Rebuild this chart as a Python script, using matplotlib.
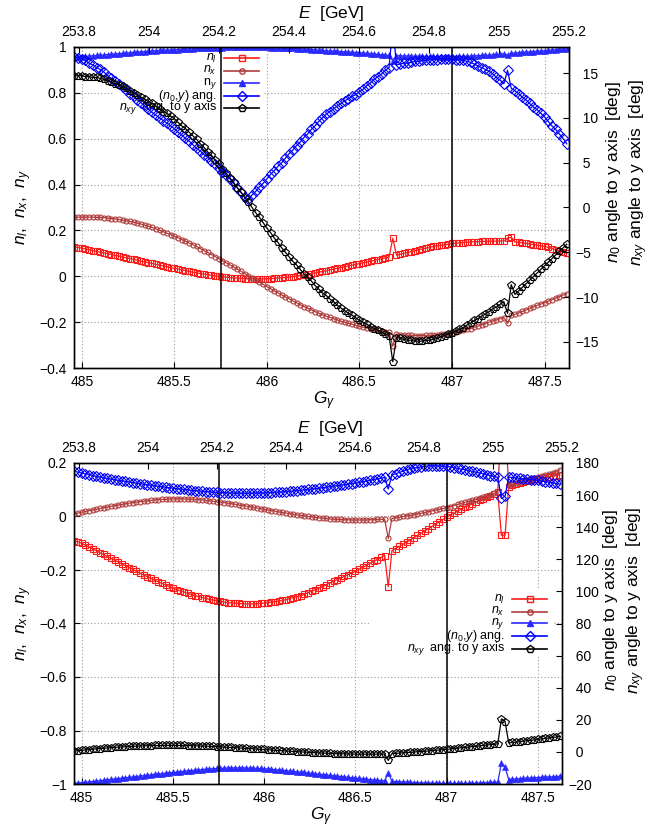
import numpy as np
import matplotlib
matplotlib.use("Agg")
import matplotlib.pyplot as plt
from matplotlib.lines import Line2D
from matplotlib.patches import Rectangle
from matplotlib.ticker import FixedLocator, FuncFormatter

plt.rcParams.update({
    "font.family": ["Liberation Sans", "DejaVu Sans"],
    "mathtext.fontset": "custom",
    "mathtext.rm": "Liberation Sans",
    "mathtext.it": "Liberation Sans:italic",
    "mathtext.bf": "Liberation Sans:bold",
    "mathtext.sf": "Liberation Sans",
    "axes.unicode_minus": True,
})

# ---------------------------------------------------------------- data
# spin tune scan: G*gamma sampled every 0.02 starting at 484.96
gamma_start, gamma_step, n_points = 484.96, 0.02, 134
gamma = gamma_start + gamma_step * np.arange(n_points)

# marked working points (vertical lines)
marked_gamma = [485.75, 487.0]

# upper panel
nl_top = [
    0.127, 0.125, 0.123,
    0.119, 0.116, 0.112, 0.109, 0.105, 0.102, 0.098, 0.095, 0.091, 0.088,
    0.084, 0.081, 0.077, 0.074, 0.070, 0.066, 0.063, 0.059, 0.056, 0.052,
    0.049, 0.045, 0.042, 0.038, 0.035, 0.032, 0.028, 0.025, 0.021, 0.018,
    0.015, 0.012, 0.010, 0.007, 0.004, 0.002, 0.000, -0.002, -0.004, -0.006,
    -0.007, -0.008, -0.009, -0.010, -0.011, -0.011, -0.012, -0.012, -0.011, -0.011,
    -0.010, -0.009, -0.008, -0.006, -0.005, -0.003, -0.001, 0.001, 0.004, 0.006,
    0.009, 0.012, 0.015, 0.018, 0.021, 0.024, 0.028, 0.031, 0.035, 0.038,
    0.041, 0.045, 0.048, 0.052, 0.055, 0.059, 0.062, 0.066, 0.069, 0.073,
    0.077, 0.080, 0.084, 0.166, 0.092,
    0.096, 0.100, 0.104, 0.108, 0.112, 0.116, 0.119, 0.123, 0.126, 0.130,
    0.133, 0.135, 0.138, 0.140, 0.143, 0.144, 0.146, 0.147, 0.149, 0.150,
    0.151, 0.151, 0.152, 0.152, 0.153, 0.153, 0.153, 0.154, 0.154,
    0.166, 0.170,
    0.150, 0.148, 0.146, 0.144, 0.141, 0.138, 0.136, 0.133, 0.130,
    0.126, 0.121, 0.116, 0.111, 0.106, 0.100,
]
nx_top = [
    0.257, 0.258, 0.258,
    0.258, 0.258, 0.258, 0.257, 0.257, 0.256, 0.254, 0.252, 0.250, 0.248,
    0.245, 0.242, 0.239, 0.236, 0.232, 0.228, 0.223, 0.218, 0.213, 0.207,
    0.201, 0.195, 0.188, 0.182, 0.175, 0.168, 0.160, 0.153, 0.145, 0.138,
    0.130, 0.121, 0.112, 0.104, 0.095, 0.086, 0.077, 0.068, 0.059, 0.050,
    0.041, 0.031, 0.022, 0.012, 0.003, -0.007, -0.016, -0.026, -0.035, -0.045,
    -0.054, -0.063, -0.072, -0.081, -0.090, -0.098, -0.107, -0.115, -0.124, -0.132,
    -0.139, -0.146, -0.154, -0.161, -0.168, -0.174, -0.179, -0.185, -0.190, -0.196,
    -0.200, -0.205, -0.209, -0.214, -0.218, -0.222, -0.225, -0.229, -0.232, -0.236,
    -0.239, -0.242, -0.245, -0.305, -0.252,
    -0.254, -0.255, -0.257, -0.258, -0.259, -0.259, -0.259, -0.258, -0.258, -0.257,
    -0.255, -0.253, -0.252, -0.250, -0.248, -0.244, -0.240, -0.236, -0.232, -0.228,
    -0.222, -0.217, -0.211, -0.206, -0.200, -0.195, -0.190, -0.185, -0.180,
    -0.205, -0.170,
    -0.166, -0.160, -0.153, -0.147, -0.140, -0.134, -0.127, -0.121, -0.115,
    -0.108, -0.102, -0.095, -0.089, -0.082, -0.076,
]
ny_top = [
    0.957, 0.957, 0.958,
    0.959, 0.960, 0.962, 0.963, 0.964, 0.965, 0.967, 0.968, 0.970, 0.971,
    0.972, 0.974, 0.975, 0.977, 0.978, 0.979, 0.980, 0.982, 0.983, 0.984,
    0.985, 0.986, 0.986, 0.987, 0.988, 0.989, 0.990, 0.991, 0.992, 0.993,
    0.994, 0.994, 0.995, 0.995, 0.996, 0.996, 0.997, 0.997, 0.998, 0.998,
    0.999, 0.999, 0.999, 1.000, 1.000, 1.000, 0.999, 0.999, 0.998, 0.998,
    0.997, 0.997, 0.996, 0.996, 0.995, 0.994, 0.994, 0.993, 0.992, 0.991,
    0.990, 0.989, 0.988, 0.986, 0.985, 0.984, 0.983, 0.982, 0.981, 0.980,
    0.979, 0.978, 0.977, 0.976, 0.975, 0.974, 0.972, 0.971, 0.969, 0.968,
    0.966, 0.965, 0.963, 0.940, 0.962,
    0.962, 0.961, 0.961, 0.960, 0.960, 0.960, 0.960, 0.959, 0.959, 0.959,
    0.959, 0.958, 0.958, 0.958, 0.958, 0.958, 0.959, 0.959, 0.960, 0.960,
    0.961, 0.962, 0.963, 0.964, 0.965, 0.966, 0.968, 0.969, 0.971,
    0.964, 0.972,
    0.974, 0.975, 0.977, 0.978, 0.979, 0.980, 0.982, 0.983, 0.984,
    0.985, 0.987, 0.988, 0.990, 0.991, 0.992,
]
ang_n0_top = [
    16.8, 16.7, 16.6,
    16.4, 16.1, 15.9, 15.6, 15.4, 15.1, 14.7, 14.4, 14.1, 13.8,
    13.4, 13.1, 12.7, 12.4, 12.0, 11.7, 11.3, 11.0, 10.6, 10.3,
    10.0, 9.7, 9.4, 9.1, 8.8, 8.4, 8.1, 7.7, 7.4, 7.0,
    6.6, 6.3, 5.9, 5.6, 5.2, 4.8, 4.4, 4.0, 3.6, 3.2,
    2.7, 2.2, 1.7, 1.2, 0.9, 1.4, 1.8, 2.3, 2.7, 3.2,
    3.7, 4.1, 4.6, 5.0, 5.5, 6.0, 6.4, 6.9, 7.3, 7.8,
    8.2, 8.7, 9.1, 9.6, 10.0, 10.4, 10.7, 11.0, 11.3, 11.6,
    11.9, 12.1, 12.4, 12.6, 12.9, 13.2, 13.6, 13.9, 14.3, 14.6,
    14.9, 15.3, 15.6, 20.3, 15.9,
    16.0, 16.1, 16.1, 16.2, 16.3, 16.3, 16.4, 16.4, 16.5, 16.5,
    16.5, 16.6, 16.6, 16.6, 16.6, 16.5, 16.5, 16.4, 16.3, 16.2,
    16.0, 15.8, 15.6, 15.4, 15.2, 14.9, 14.5, 14.2, 13.8,
    15.3, 13.3,
    13.0, 12.7, 12.3, 12.0, 11.6, 11.2, 10.9, 10.5, 10.1,
    9.6, 9.1, 8.7, 8.2, 7.7, 7.1,
]
ang_nxy_top = [
    14.7, 14.7, 14.7,
    14.6, 14.6, 14.5, 14.5, 14.4, 14.3, 14.1, 14.0, 13.8, 13.7,
    13.5, 13.3, 13.0, 12.8, 12.6, 12.3, 12.1, 11.8, 11.6, 11.3,
    11.0, 10.7, 10.5, 10.2, 9.9, 9.5, 9.1, 8.8, 8.4, 8.0,
    7.6, 7.1, 6.7, 6.2, 5.8, 5.3, 4.8, 4.3, 3.8, 3.3,
    2.8, 2.2, 1.7, 1.1, 0.6, 0.0, -0.6, -1.1, -1.7, -2.3,
    -2.8, -3.4, -3.9, -4.5, -5.0, -5.5, -6.0, -6.4, -6.9, -7.4,
    -7.8, -8.2, -8.7, -9.1, -9.5, -9.8, -10.2, -10.5, -10.9, -11.2,
    -11.5, -11.8, -12.0, -12.3, -12.6, -12.8, -13.0, -13.3, -13.5, -13.7,
    -13.9, -14.1, -14.3, -17.2, -14.5,
    -14.6, -14.7, -14.8, -14.8, -14.9, -14.9, -14.9, -14.8, -14.8, -14.7,
    -14.6, -14.4, -14.3, -14.1, -14.0, -13.8, -13.6, -13.4, -13.1, -12.9,
    -12.6, -12.4, -12.1, -11.9, -11.6, -11.3, -11.1, -10.8, -10.5,
    -11.8, -8.6,
    -9.7, -9.3, -8.9, -8.5, -8.1, -7.7, -7.3, -6.9, -6.5,
    -6.1, -5.7, -5.3, -4.9, -4.5, -4.1,
]

# lower panel
nl_bot = [
    -0.090, -0.095, -0.100,
    -0.107, -0.114, -0.121, -0.128, -0.135, -0.142, -0.149, -0.156, -0.163, -0.170,
    -0.177, -0.184, -0.191, -0.198, -0.205, -0.212, -0.218, -0.225, -0.231, -0.238,
    -0.244, -0.250, -0.256, -0.262, -0.268, -0.273, -0.278, -0.282, -0.287, -0.292,
    -0.296, -0.299, -0.303, -0.306, -0.310, -0.312, -0.315, -0.317, -0.320, -0.322,
    -0.323, -0.324, -0.325, -0.326, -0.327, -0.327, -0.327, -0.326, -0.325, -0.324,
    -0.322, -0.320, -0.318, -0.316, -0.314, -0.311, -0.307, -0.303, -0.300, -0.296,
    -0.291, -0.285, -0.279, -0.274, -0.268, -0.262, -0.255, -0.249, -0.242, -0.236,
    -0.230, -0.224, -0.217, -0.211, -0.205, -0.198, -0.190, -0.183, -0.175, -0.168,
    -0.161, -0.153, -0.146, -0.262, -0.128,
    -0.120, -0.112, -0.104, -0.096, -0.088, -0.079, -0.071, -0.062, -0.054, -0.045,
    -0.037, -0.028, -0.020, -0.011, -0.003, 0.005, 0.012, 0.020, 0.027, 0.035,
    0.041, 0.047, 0.054, 0.060, 0.066, 0.072, 0.078, 0.084, 0.090,
    -0.070, -0.070,
    0.112, 0.116, 0.121, 0.125, 0.128, 0.132, 0.135, 0.139, 0.142,
    0.144, 0.147, 0.149, 0.151, 0.153, 0.155,
]
nx_bot = [
    0.010, 0.013, 0.016,
    0.019, 0.022, 0.024, 0.027, 0.030, 0.033, 0.035, 0.038, 0.040, 0.043,
    0.045, 0.047, 0.050, 0.052, 0.054, 0.056, 0.057, 0.059, 0.060, 0.062,
    0.063, 0.064, 0.064, 0.065, 0.066, 0.066, 0.066, 0.066, 0.065, 0.065,
    0.064, 0.063, 0.062, 0.060, 0.059, 0.057, 0.055, 0.054, 0.052, 0.050,
    0.048, 0.046, 0.043, 0.041, 0.039, 0.037, 0.034, 0.032, 0.029, 0.027,
    0.025, 0.022, 0.020, 0.017, 0.015, 0.013, 0.011, 0.008, 0.006, 0.004,
    0.002, 0.000, -0.001, -0.003, -0.005, -0.006, -0.007, -0.009, -0.010, -0.011,
    -0.011, -0.012, -0.012, -0.013, -0.013, -0.013, -0.013, -0.013, -0.012, -0.012,
    -0.011, -0.011, -0.010, -0.082, -0.007,
    -0.005, -0.003, 0.000, 0.002, 0.004, 0.007, 0.010, 0.012, 0.015, 0.018,
    0.021, 0.024, 0.027, 0.030, 0.033, 0.037, 0.041, 0.045, 0.049, 0.053,
    0.057, 0.061, 0.065, 0.069, 0.073, 0.077, 0.082, 0.086, 0.090,
    0.378, 0.348,
    0.116, 0.120, 0.124, 0.128, 0.132, 0.136, 0.140, 0.144, 0.148,
    0.152, 0.156, 0.160, 0.164, 0.168, 0.174,
]
ny_bot = [
    -0.997, -0.996, -0.995,
    -0.994, -0.992, -0.991, -0.989, -0.988, -0.986, -0.985, -0.983, -0.982, -0.980,
    -0.978, -0.977, -0.975, -0.974, -0.972, -0.970, -0.969, -0.967, -0.966, -0.964,
    -0.963, -0.961, -0.960, -0.958, -0.957, -0.956, -0.954, -0.953, -0.951, -0.950,
    -0.949, -0.948, -0.946, -0.945, -0.944, -0.943, -0.942, -0.942, -0.941, -0.940,
    -0.940, -0.940, -0.940, -0.940, -0.940, -0.941, -0.941, -0.942, -0.942, -0.943,
    -0.944, -0.945, -0.946, -0.948, -0.949, -0.950, -0.952, -0.953, -0.955, -0.956,
    -0.957, -0.959, -0.960, -0.962, -0.963, -0.965, -0.966, -0.968, -0.969, -0.971,
    -0.972, -0.974, -0.975, -0.977, -0.978, -0.979, -0.981, -0.982, -0.984, -0.985,
    -0.986, -0.987, -0.988, -0.958, -0.990,
    -0.991, -0.992, -0.992, -0.993, -0.994, -0.995, -0.995, -0.996, -0.996, -0.997,
    -0.997, -0.997, -0.998, -0.998, -0.998, -0.998, -0.998, -0.998, -0.998, -0.998,
    -0.998, -0.997, -0.997, -0.996, -0.996, -0.995, -0.994, -0.994, -0.993,
    -0.923, -0.935,
    -0.984, -0.983, -0.981, -0.980, -0.979, -0.978, -0.978, -0.977, -0.976,
    -0.975, -0.974, -0.974, -0.973, -0.972, -0.971,
]
ang_n0_bot = [
    174.8, 174.3, 173.8,
    173.3, 172.8, 172.2, 171.7, 171.2, 170.8, 170.4, 170.0, 169.6, 169.2,
    168.9, 168.5, 168.2, 167.8, 167.5, 167.2, 166.8, 166.5, 166.1, 165.8,
    165.5, 165.2, 164.9, 164.6, 164.3, 164.0, 163.8, 163.5, 163.3, 163.0,
    162.8, 162.6, 162.4, 162.2, 162.0, 161.9, 161.8, 161.6, 161.5, 161.4,
    161.4, 161.3, 161.3, 161.2, 161.2, 161.2, 161.3, 161.3, 161.4, 161.4,
    161.5, 161.6, 161.8, 161.9, 162.0, 162.2, 162.4, 162.6, 162.8, 163.0,
    163.3, 163.5, 163.8, 164.0, 164.3, 164.6, 164.9, 165.3, 165.6, 165.9,
    166.2, 166.5, 166.9, 167.2, 167.5, 167.9, 168.3, 168.8, 169.2, 169.6,
    170.1, 170.5, 171.0, 163.8, 172.5,
    173.3, 174.1, 174.9, 175.7, 176.5, 176.9, 177.2, 177.6, 177.9, 178.3,
    178.3, 178.2, 178.2, 178.1, 178.0, 177.6, 177.1, 176.7, 176.2, 175.8,
    175.3, 174.8, 174.3, 173.8, 173.3, 172.7, 172.2, 171.6, 171.0,
    158.0, 159.4,
    171.2, 171.0, 170.7, 170.5, 170.2, 170.0, 169.7, 169.5, 169.2,
    168.8, 168.4, 168.1, 167.7, 167.3, 166.8,
]
ang_nxy_bot = [
    0.5, 0.8, 1.0,
    1.2, 1.4, 1.7, 1.9, 2.1, 2.3, 2.5, 2.6, 2.8, 3.0,
    3.1, 3.2, 3.4, 3.5, 3.6, 3.7, 3.8, 3.8, 3.9, 4.0,
    4.0, 4.0, 4.1, 4.1, 4.1, 4.1, 4.0, 4.0, 3.9, 3.9,
    3.8, 3.7, 3.7, 3.6, 3.5, 3.4, 3.3, 3.1, 3.0, 2.9,
    2.8, 2.6, 2.5, 2.3, 2.2, 2.1, 1.9, 1.8, 1.6, 1.5,
    1.3, 1.2, 1.0, 0.9, 0.7, 0.6, 0.4, 0.3, 0.1, 0.0,
    -0.1, -0.2, -0.4, -0.5, -0.6, -0.7, -0.8, -0.9, -1.0, -1.1,
    -1.2, -1.2, -1.3, -1.3, -1.4, -1.4, -1.4, -1.4, -1.4, -1.4,
    -1.4, -1.3, -1.3, -5.3, -1.0,
    -0.9, -0.7, -0.6, -0.4, -0.3, -0.1, 0.1, 0.2, 0.4, 0.6,
    0.8, 1.0, 1.2, 1.4, 1.6, 1.8, 2.1, 2.3, 2.6, 2.8,
    3.0, 3.3, 3.5, 3.8, 4.0, 4.3, 4.5, 4.8, 5.0,
    20.6, 18.9,
    5.6, 5.9, 6.1, 6.4, 6.7, 7.0, 7.2, 7.5, 7.8,
    8.1, 8.4, 8.7, 9.0, 9.3, 9.6,
]

gamma_ticks = [485, 485.5, 486, 486.5, 487, 487.5]
energy_ticks = [253.8, 254.0, 254.2, 254.4, 254.6, 254.8, 255.0, 255.2]
top_left_ticks = [-0.4, -0.2, 0, 0.2, 0.4, 0.6, 0.8, 1]
top_right_ticks = [-15, -10, -5, 0, 5, 10, 15]
bot_left_ticks = [-1, -0.8, -0.6, -0.4, -0.2, 0, 0.2]
bot_right_ticks = [-20, 0, 20, 40, 60, 80, 100, 120, 140, 160, 180]

labels_top = [r'$n_l$', r'$n_x$', r'n$_y$', r'($n_0$,$y$) ang.',
              r'$n_{xy}$  ang. to y axis']
labels_bot = [r'$n_l$', r'$n_x$', r'$n_y$', r'($n_0$,$y$) ang.',
              r'$n_{xy}$  ang. to y axis']

# ---------------------------------------------------------------- styles
STYLES = [
    dict(color='#ff1a1a', marker='s', ms=4.4, mfc='none', mew=0.8, lw=0.9),
    dict(color='#b03c3c', marker='o', ms=3.6, mfc='none', mew=0.8, lw=0.9),
    dict(color='#2a2aff', marker='^', ms=4.0, mfc='#2a2aff', mew=0.4, lw=0.9),
    dict(color='#0000ff', marker='D', ms=4.7, mfc='none', mew=0.8, lw=0.9),
    dict(color='#000000', marker='p', ms=5.6, mfc='none', mew=0.8, lw=0.9),
]

W, H = 655, 830
TICK_FS = 10
LABEL_FS = 12.5
KEY_FS = 9

fig = plt.figure(figsize=(W / 100, H / 100), dpi=100)


def gp_fmt(v, pos=None):
    v = round(v, 6)
    if v == 0:
        v = 0.0
    return ('%g' % v).replace('-', '\u2212')


def gp_fmt_right(v, pos=None):
    s = gp_fmt(v)
    return s if s.startswith('\u2212') else '  ' + s


def panel(frame, left_series, right_series, ylim, yticks, y2lim, y2ticks,
          labels, key):
    x0, x1, y0, y1 = frame
    ax = fig.add_axes([x0 / W, 1 - y1 / H, (x1 - x0) / W, (y1 - y0) / H])
    ax2 = ax.twinx()
    ax3 = ax.twiny()

    for vals, st in zip(left_series, STYLES[:3]):
        ax.plot(gamma[:len(vals)], vals, **st, zorder=2)
    for gv in marked_gamma:
        ax2.axvline(gv, color='k', lw=1.1, zorder=1)
    for vals, st in zip(right_series, STYLES[3:]):
        ax2.plot(gamma[:len(vals)], vals, **st, zorder=2)

    ax.set_xlim(484.958, 487.632)
    ax.set_ylim(*ylim)
    ax2.set_ylim(*y2lim)
    ax3.set_xlim(253.786, 255.2005)

    ax.xaxis.set_major_locator(FixedLocator(gamma_ticks))
    ax.yaxis.set_major_locator(FixedLocator(yticks))
    ax2.yaxis.set_major_locator(FixedLocator(y2ticks))
    ax3.xaxis.set_major_locator(FixedLocator(energy_ticks))
    ax.xaxis.set_major_formatter(FuncFormatter(gp_fmt))
    ax.yaxis.set_major_formatter(FuncFormatter(gp_fmt))
    ax2.yaxis.set_major_formatter(FuncFormatter(gp_fmt_right))
    ax3.xaxis.set_major_formatter(FuncFormatter(gp_fmt))

    ax.tick_params(axis='x', direction='in', length=4, width=0.8,
                   labelsize=TICK_FS, pad=5, top=False)
    ax.tick_params(axis='y', direction='in', length=4, width=0.8,
                   labelsize=TICK_FS, pad=5.3, right=False)
    ax2.tick_params(axis='y', direction='in', length=4, width=0.8,
                    labelsize=TICK_FS, pad=4.3)
    ax3.tick_params(axis='x', direction='in', length=4, width=0.8,
                    labelsize=TICK_FS, pad=6)

    ax.set_axisbelow(True)
    ax.grid(True, color='#9a9a9a', lw=0.8, ls=(0, (1, 2)))
    for a in (ax, ax2, ax3):
        for sp in a.spines.values():
            sp.set_linewidth(0.9)

    # key: opaque box hides the grid, curves on the twin axis stay on top
    fx = lambda px: (px - x0) / (x1 - x0)
    fy = lambda py: (y1 - py) / (y1 - y0)
    bx0, bx1, by0, by1 = key['box']
    ax.add_patch(Rectangle((fx(bx0), fy(by1)), fx(bx1) - fx(bx0),
                           fy(by0) - fy(by1), transform=ax.transAxes,
                           facecolor='white', edgecolor='none', zorder=1.5,
                           clip_on=False))
    s0, s1 = key['sample']
    for lab, st, row in zip(labels, STYLES, key['rows']):
        ax.text(fx(key['text_right']), fy(row), lab, ha='right',
                va='center', fontsize=KEY_FS, transform=ax.transAxes,
                zorder=3)
        ax.add_line(Line2D([fx(s0), fx(s1)], [fy(row), fy(row)],
                           transform=ax.transAxes, color=st['color'],
                           lw=1.2, zorder=3, clip_on=False))
        ax.add_line(Line2D([fx((s0 + s1) / 2)], [fy(row)],
                           transform=ax.transAxes, ls='none',
                           marker=st['marker'], ms=st['ms'] + 0.3,
                           mfc=st['mfc'], mec=st['color'], mew=1.0,
                           zorder=3, clip_on=False))
    ax.set_xlim(484.958, 487.632)
    ax.set_ylim(*ylim)
    return ax, ax2, ax3


panel((74, 569, 47, 368),
      [nl_top, nx_top, ny_top], [ang_n0_top, ang_nxy_top],
      (-0.4, 1.0), top_left_ticks, (-17.9, 17.9), top_right_ticks,
      labels_top,
      dict(box=(113, 263, 50, 115), sample=(224, 259), text_right=217,
           rows=[58.3, 70.7, 83.3, 95.7, 108]))

panel((74, 562, 463, 784),
      [nl_bot, nx_bot, ny_bot], [ang_n0_bot, ang_nxy_bot],
      (-1.0, 0.2), bot_left_ticks, (-20, 180), bot_right_ticks,
      labels_bot,
      dict(box=(370, 553, 590, 656), sample=(512, 547), text_right=505,
           rows=[599.3, 611.7, 623.3, 636, 648.7]))

# axis titles
left_label = r'$n_l$,  $n_x$,  $n_y$'
right_label = (r'$n_0$ angle to y axis  [deg]' + '\n' +
               r'$n_{xy}$ angle to y axis  [deg]')
for yc in (207, 623):
    fig.text(24 / W, 1 - yc / H, left_label, rotation=90, ha='center',
             va='center', fontsize=LABEL_FS)
for xc, yc in ((627, 172), (624, 600)):
    fig.text(xc / W, 1 - yc / H, right_label, rotation=90, ha='center',
             va='center', fontsize=LABEL_FS, multialignment='center',
             linespacing=1.25)
for xl, yb in ((298, 18), (297, 433)):
    fig.text(xl / W, 1 - yb / H, r'$E$  [GeV]', ha='left', va='baseline',
             fontsize=LABEL_FS)
for xl, yb in ((313, 404), (310, 820)):
    fig.text(xl / W, 1 - yb / H, r'$G_\gamma$', ha='left', va='baseline',
             fontsize=LABEL_FS)

fig.savefig('out.png', dpi=100)
